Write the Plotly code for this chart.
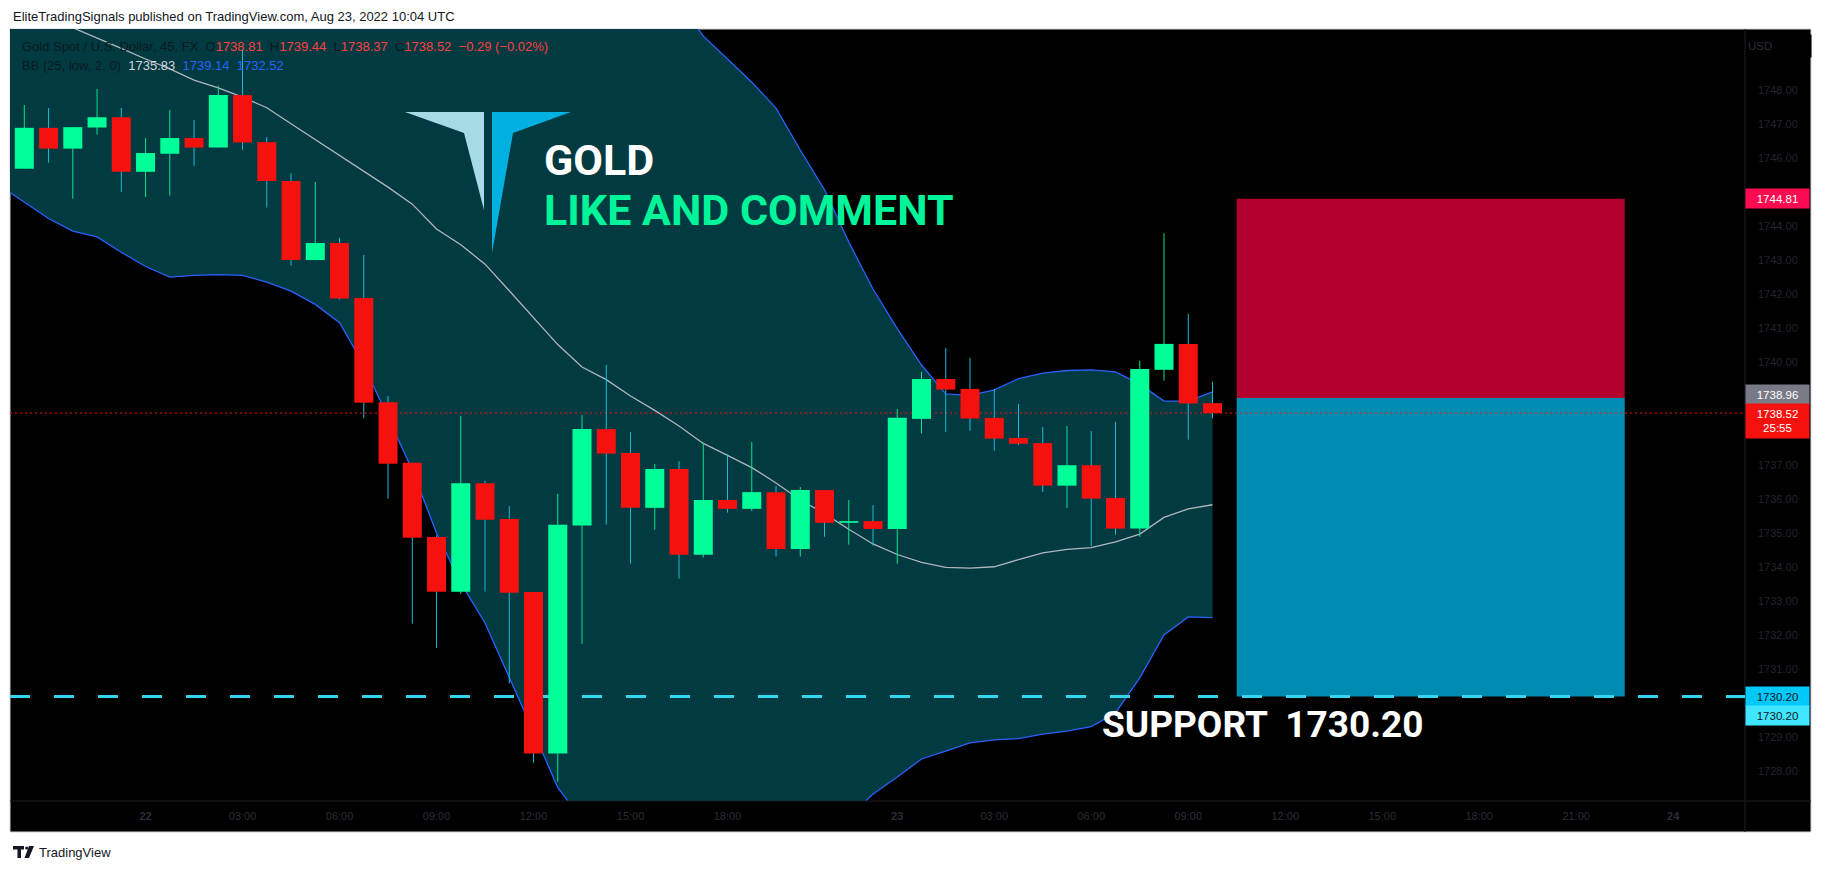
import plotly.graph_objects as go

# ------------------------------------------------------------------ data
# 45-minute bars, index 0..49 (bar 5 = Aug 22 00:00 UTC, bar 36 = Aug 23 00:00 UTC)
bar_idx = list(range(50))
opens = [1745.69, 1746.89, 1746.28, 1746.90, 1747.20, 1745.60, 1746.13, 1746.59, 1746.31, 1747.85,
         1746.47, 1745.33, 1743.01, 1743.51, 1741.90, 1738.84, 1737.06, 1734.88, 1733.28, 1736.46,
         1735.41, 1733.27, 1728.53, 1735.22, 1738.05, 1737.35, 1735.74, 1736.88, 1734.36, 1735.97,
         1735.71, 1736.20, 1734.53, 1736.26, 1735.30, 1735.35, 1735.12, 1738.35, 1739.52, 1739.23,
         1738.38, 1737.79, 1737.64, 1736.39, 1736.99, 1736.03, 1735.13, 1739.79, 1740.55, 1738.81]
highs = [1747.56, 1747.47, 1746.91, 1748.03, 1747.47, 1746.59, 1747.41, 1747.12, 1748.13, 1749.20,
         1746.62, 1745.55, 1745.30, 1743.66, 1743.16, 1739.02, 1737.06, 1734.93, 1738.44, 1736.53,
         1735.79, 1733.27, 1736.15, 1738.46, 1739.93, 1737.96, 1737.03, 1737.11, 1737.66, 1737.32,
         1737.67, 1736.38, 1736.35, 1736.26, 1735.97, 1735.82, 1738.64, 1739.73, 1740.43, 1740.14,
         1739.23, 1738.79, 1738.11, 1738.14, 1737.99, 1738.26, 1740.05, 1743.80, 1741.43, 1739.44]
lows = [1745.69, 1745.87, 1744.81, 1746.69, 1745.01, 1744.86, 1744.90, 1745.78, 1746.31, 1746.25,
        1744.55, 1742.85, 1743.01, 1741.85, 1738.37, 1736.01, 1732.34, 1731.63, 1733.21, 1733.28,
        1730.59, 1728.26, 1727.70, 1731.75, 1735.25, 1734.10, 1735.10, 1733.66, 1734.28, 1735.60,
        1735.65, 1734.31, 1734.31, 1734.89, 1734.66, 1734.63, 1734.10, 1737.92, 1737.97, 1738.00,
        1737.42, 1737.58, 1736.21, 1735.74, 1734.62, 1734.95, 1734.89, 1739.47, 1737.74, 1738.37]
closes = [1746.89, 1746.28, 1746.91, 1747.20, 1745.60, 1746.15, 1746.59, 1746.31, 1747.85, 1746.46,
          1745.33, 1743.01, 1743.51, 1741.88, 1738.82, 1737.03, 1734.86, 1733.28, 1736.46, 1735.39,
          1733.25, 1728.53, 1735.24, 1738.05, 1737.33, 1735.74, 1736.88, 1734.36, 1735.97, 1735.71,
          1736.20, 1734.53, 1736.26, 1735.30, 1735.35, 1735.12, 1738.38, 1739.52, 1739.21, 1738.36,
          1737.77, 1737.62, 1736.39, 1736.99, 1736.01, 1735.13, 1739.81, 1740.55, 1738.80, 1738.52]

# Bollinger Bands (25, low, 2, 0), bar index -1..49
bb_idx = list(range(-1, 50))
bb_basis = [1750.74, 1750.44, 1750.14, 1749.83, 1749.53, 1749.22, 1748.91, 1748.62, 1748.29, 1748.06,
            1747.79, 1747.48, 1747.01, 1746.55, 1746.08, 1745.61, 1745.15, 1744.65, 1743.92, 1743.46,
            1742.89, 1742.11, 1741.33, 1740.53, 1739.87, 1739.50, 1739.02, 1738.60, 1738.14, 1737.63,
            1737.28, 1736.92, 1736.47, 1735.97, 1735.57, 1735.11, 1734.68, 1734.37, 1734.14, 1733.99,
            1733.97, 1734.01, 1734.22, 1734.42, 1734.52, 1734.57, 1734.74, 1734.97, 1735.46, 1735.71,
            1735.83]
bb_upper = [1756.30, 1756.17, 1756.05, 1755.80, 1755.37, 1755.20, 1755.00, 1754.73, 1754.02, 1753.54,
            1753.02, 1752.60, 1751.92, 1751.39, 1750.99, 1751.29, 1751.91, 1752.45, 1752.84, 1753.39,
            1753.42, 1753.45, 1753.50, 1753.53, 1753.14, 1752.90, 1752.24, 1751.50, 1750.58, 1749.58,
            1748.91, 1748.23, 1747.47, 1746.24, 1745.07, 1743.54, 1742.16, 1741.00, 1739.93, 1739.08,
            1739.04, 1739.20, 1739.53, 1739.69, 1739.77, 1739.79, 1739.73, 1739.37, 1738.87, 1738.87,
            1739.14]
bb_lower = [1745.19, 1744.71, 1744.23, 1743.86, 1743.69, 1743.24, 1742.82, 1742.51, 1742.56, 1742.58,
            1742.56, 1742.36, 1742.10, 1741.71, 1741.17, 1739.93, 1738.39, 1736.85, 1735.00, 1733.53,
            1732.36, 1730.77, 1729.16, 1727.53, 1726.60, 1726.10, 1725.80, 1725.70, 1725.70, 1725.68,
            1725.65, 1725.60, 1725.55, 1725.70, 1726.07, 1726.68, 1727.34, 1727.84, 1728.37, 1728.60,
            1728.84, 1728.93, 1728.97, 1729.10, 1729.19, 1729.32, 1729.72, 1730.75, 1732.01, 1732.54,
            1732.52]

# time axis labels (bar index positions)
x_tick_idx = [5, 9, 13, 17, 21, 25, 29, 36, 40, 44, 48, 52, 56, 60, 64, 68]
x_tick_text = ["<b>22</b>", "03:00", "06:00", "09:00", "12:00", "15:00", "18:00", "<b>23</b>",
               "03:00", "06:00", "09:00", "12:00", "15:00", "18:00", "21:00", "<b>24</b>"]
# price-axis ticks that are not hidden under the price badges
y_tick_vals = [1728, 1729, 1731, 1732, 1733, 1734, 1735, 1736, 1737,
               1740, 1741, 1742, 1743, 1744, 1746, 1747, 1748]

# short position tool
pos_start, pos_end = 50, 66
entry_price, stop_price, target_price = 1738.96, 1744.81, 1730.20
last_price = 1738.52
countdown = "25:55"
support_level = 1730.20

x_range = [-0.59, 70.96]
y_range = [1727.137, 1749.79]

# ------------------------------------------------------------------ layout helpers
W, H = 1823, 872
PX0, PX1, PY0, PY1 = 10, 1745, 29, 801   # plot area in pixels


def ax(X):
    return (X - PX0) / (PX1 - PX0)


def ay(Y):
    return (PY1 - Y) / (PY1 - PY0)


UP, DOWN = "#00ff99", "#f5120e"
UP_WICK, DOWN_WICK = "#00e68a", "#1bbcd6"
BODY_PX = 19

fig = go.Figure()

# Bollinger band fill + lines
fig.add_trace(go.Scatter(x=bb_idx, y=bb_upper, mode="lines", line=dict(color="#2962ff", width=1.3),
                         hoverinfo="skip", showlegend=False))
fig.add_trace(go.Scatter(x=bb_idx, y=bb_lower, mode="lines", line=dict(color="#2962ff", width=1.3),
                         fill="tonexty", fillcolor="#013a41", hoverinfo="skip", showlegend=False))
fig.add_trace(go.Scatter(x=bb_idx, y=bb_basis, mode="lines", line=dict(color="#b2b5be", width=1.3),
                         hoverinfo="skip", showlegend=False))

# horizontal lines
fig.add_trace(go.Scatter(x=x_range, y=[support_level, support_level], mode="lines",
                         line=dict(color="#33d6ee", width=3, dash="20px,24px"),
                         hoverinfo="skip", showlegend=False))
fig.add_trace(go.Scatter(x=x_range, y=[last_price, last_price], mode="lines",
                         line=dict(color="#f5120e", width=1, dash="2px,3px"),
                         hoverinfo="skip", showlegend=False))

# wicks and bodies (thick line segments so they sit above the band fill)
for up in (True, False):
    wx, wy, bx, by = [], [], [], []
    for i, o, h, l, c in zip(bar_idx, opens, highs, lows, closes):
        if (c >= o) == up:
            wx += [i, i, None]
            wy += [l, h, None]
            lo, hi = min(o, c), max(o, c)
            if hi - lo < 0.04:
                hi = lo + 0.04
            bx += [i, i, None]
            by += [lo, hi, None]
    fig.add_trace(go.Scatter(x=wx, y=wy, mode="lines",
                             line=dict(color=UP_WICK if up else DOWN_WICK, width=1),
                             hoverinfo="skip", showlegend=False))
    fig.add_trace(go.Scatter(x=bx, y=by, mode="lines",
                             line=dict(color=UP if up else DOWN, width=BODY_PX),
                             hoverinfo="skip", showlegend=False))

shapes = []
# chart frame (price axis + time axis background)
shapes.append(dict(type="rect", xref="paper", yref="paper", x0=ax(10), x1=ax(1811), y0=ay(832), y1=ay(29),
                   fillcolor="#000000", line=dict(color="#d1d4dc", width=1), layer="below"))
# position tool boxes
shapes.append(dict(type="rect", xref="x", yref="y", x0=pos_start, x1=pos_end, y0=entry_price, y1=stop_price,
                   fillcolor="#b2002f", line=dict(width=0), layer="below"))
shapes.append(dict(type="rect", xref="x", yref="y", x0=pos_start, x1=pos_end, y0=target_price, y1=entry_price,
                   fillcolor="#008bb2", line=dict(width=0), layer="below"))
# axis separators
shapes.append(dict(type="line", xref="paper", yref="paper", x0=ax(1745), x1=ax(1745), y0=ay(832), y1=ay(29),
                   line=dict(color="#1c1f26", width=1)))
shapes.append(dict(type="line", xref="paper", yref="paper", x0=ax(10), x1=ax(1811), y0=ay(801), y1=ay(801),
                   line=dict(color="#1c1f26", width=1)))
# support line stub on price axis
shapes.append(dict(type="line", xref="paper", yref="y", x0=ax(1727), x1=ax(1745), y0=support_level,
                   y1=support_level, line=dict(color="#33d6ee", width=3)))


def poly(pts):
    return "M " + " L ".join(f"{ax(x):.5f},{ay(y):.5f}" for x, y in pts) + " Z"


# logo (two blades)
shapes.append(dict(type="path", xref="paper", yref="paper",
                   path=poly([(405, 112), (484, 112), (484, 210), (464, 133)]),
                   fillcolor="#a6dbe6", line=dict(width=0)))
shapes.append(dict(type="path", xref="paper", yref="paper",
                   path=poly([(492, 112), (571, 112), (513, 133), (492, 253)]),
                   fillcolor="#00b0e0", line=dict(width=0)))
# footer TradingView mark
shapes.append(dict(type="path", xref="paper", yref="paper",
                   path=poly([(13, 846), (24, 846), (24, 849.5), (21, 849.5), (21, 858), (17.5, 858),
                              (17.5, 849.5), (13, 849.5)]),
                   fillcolor="#131722", line=dict(width=0)))
shapes.append(dict(type="path", xref="paper", yref="paper",
                   path=poly([(29, 846), (34, 846), (29, 858), (24.5, 858)]),
                   fillcolor="#131722", line=dict(width=0)))
shapes.append(dict(type="circle", xref="paper", yref="paper", x0=ax(25.2), x1=ax(28.2), y0=ay(849.5),
                   y1=ay(846.5), fillcolor="#131722", line=dict(width=0)))

ann = []
TXT = "Liberation Sans"
ann.append(dict(xref="paper", yref="paper", x=ax(11), y=ay(17), xanchor="left", yanchor="middle",
                text="EliteTradingSignals published on TradingView.com, Aug 23, 2022 10:04 UTC",
                showarrow=False, font=dict(family=TXT, size=13, color="#131722")))
ann.append(dict(xref="paper", yref="paper", x=ax(37), y=ay(852), xanchor="left", yanchor="middle",
                text="TradingView", showarrow=False, font=dict(family=TXT, size=13, color="#131722")))

red_txt = "#ff4040"
dark = "#0b1a1f"
leg1 = (f"<span style='color:{dark}'>Gold Spot / U.S. Dollar, 45, FX  O</span>"
        f"<span style='color:{red_txt}'>{opens[-1]:.2f}</span>"
        f"<span style='color:{dark}'>  H</span><span style='color:{red_txt}'>{highs[-1]:.2f}</span>"
        f"<span style='color:{dark}'>  L</span><span style='color:{red_txt}'>{lows[-1]:.2f}</span>"
        f"<span style='color:{dark}'>  C</span><span style='color:{red_txt}'>{closes[-1]:.2f}</span>"
        f"<span style='color:{red_txt}'>  −0.29 (−0.02%)</span>")
leg2 = (f"<span style='color:{dark}'>BB (25, low, 2, 0)</span>  "
        f"<span style='color:#d1d4dc'>{bb_basis[-1]:.2f}</span>  "
        f"<span style='color:#2962ff'>{bb_upper[-1]:.2f}</span>  "
        f"<span style='color:#2962ff'>{bb_lower[-1]:.2f}</span>")
ann.append(dict(xref="paper", yref="paper", x=ax(20), y=ay(47), xanchor="left", yanchor="middle",
                text=leg1, showarrow=False, font=dict(family=TXT, size=13)))
ann.append(dict(xref="paper", yref="paper", x=ax(20), y=ay(66), xanchor="left", yanchor="middle",
                text=leg2, showarrow=False, font=dict(family=TXT, size=13)))

BIG = "Roboto"
ann.append(dict(xref="paper", yref="paper", x=ax(542), y=ay(160), xanchor="left", yanchor="middle",
                text="<b>GOLD</b>", showarrow=False, font=dict(family=BIG, size=43, color="#ffffff")))
ann.append(dict(xref="paper", yref="paper", x=ax(542), y=ay(210), xanchor="left", yanchor="middle",
                text="<b>LIKE AND COMMENT</b>", showarrow=False, font=dict(family=BIG, size=43, color="#00f59a")))
ann.append(dict(xref="paper", yref="paper", x=ax(1100), y=ay(724), xanchor="left", yanchor="middle",
                text="<b>SUPPORT  1730.20</b>", showarrow=False, font=dict(family=BIG, size=37, color="#ffffff")))


# price-axis badges
def badge(y, text, bg, fg, yshift=0, h=19):
    return dict(xref="paper", yref="y", x=ax(1745), y=y, xanchor="left", yanchor="middle",
                text=text, showarrow=False, width=63, height=h, bgcolor=bg, borderpad=0,
                align="center", yshift=yshift, font=dict(family=TXT, size=11.5, color=fg))


ann.append(dict(xref="paper", yref="paper", x=ax(1746), y=ay(46), xanchor="left", yanchor="middle",
                text="USD", showarrow=False, width=62, height=20, bgcolor="#000000", align="left",
                font=dict(family=TXT, size=11.5, color="#2a2e39")))
ann.append(badge(stop_price, f"{stop_price:.2f}", "#ff0a50", "#ffffff"))
ann.append(badge(entry_price, f"{entry_price:.2f}", "#787b86", "#ffffff", yshift=4))
ann.append(badge(last_price, f"{last_price:.2f}<br>{countdown}", "#f5120e", "#ffffff", yshift=-8, h=34))
ann.append(badge(target_price, f"{target_price:.2f}", "#00c8f8", "#131722"))
ann.append(badge(target_price, f"{target_price:.2f}", "#40e6ff", "#131722", yshift=-19))

fig.update_layout(
    width=W, height=H,
    margin=dict(l=PX0, r=W - PX1, t=PY0, b=H - PY1, pad=0),
    paper_bgcolor="#ffffff", plot_bgcolor="#000000",
    showlegend=False,
    shapes=shapes, annotations=ann,
    xaxis=dict(range=x_range, showgrid=False, zeroline=False, showline=False,
               tickmode="array", tickvals=x_tick_idx, ticktext=x_tick_text, ticks="",
               ticklabelstandoff=7, tickfont=dict(family=TXT, size=11, color="#2a2e39"), fixedrange=True),
    yaxis=dict(range=y_range, side="right", showgrid=False, zeroline=False, showline=False,
               tickmode="array", tickvals=y_tick_vals, tickformat=".2f", ticks="",
               ticklabelstandoff=12, tickfont=dict(family=TXT, size=11, color="#22262f"), fixedrange=True),
)

fig.write_html("out.html", config={"displayModeBar": False},
               post_script="document.body.style.margin='0';document.body.style.overflow='hidden';")
